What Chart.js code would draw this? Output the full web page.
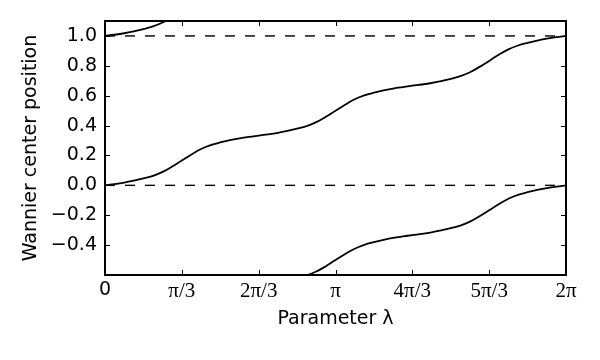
<!DOCTYPE html>
<html>
<head>
<meta charset="utf-8">
<script src="https://cdn.jsdelivr.net/npm/chart.js@4.4.1/dist/chart.umd.min.js"></script>
<style>
  html, body { margin: 0; padding: 0; background: #fff; }
  #wrap { width: 600px; height: 360px; }
</style>
</head>
<body>
<div id="wrap"><canvas id="c" width="600" height="360"></canvas></div>
<script>
// ---- data ----
// sample grid: lambda = j * pi/24, j = 0..48
const stepsPerPi = 24;
// main Wannier centre branch (0 -> 1)
const centerMain = [
  0.000, 0.008, 0.018, 0.031, 0.046, 0.064, 0.090, 0.126, 0.167, 0.207, 0.243, 0.269, 0.287, 0.302, 0.315, 0.325, 0.333,
  0.341, 0.351, 0.364, 0.379, 0.397, 0.423, 0.459, 0.500, 0.540, 0.576, 0.602, 0.620, 0.635, 0.648, 0.658, 0.667,
  0.675, 0.685, 0.698, 0.713, 0.731, 0.757, 0.793, 0.833, 0.874, 0.910, 0.936, 0.954, 0.969, 0.982, 0.992, 1.000
];
// upper periodic image (starts at j = 0)
const centerUpper = [1.000, 1.008, 1.018, 1.031, 1.046, 1.064, 1.090, 1.126, 1.167, 1.207];
// lower periodic image (starts at j = 18)
const lowerStart = 18;
const centerLower = [
  -0.649, -0.636, -0.621, -0.603, -0.577, -0.541, -0.500, -0.460, -0.424, -0.398, -0.380, -0.365, -0.352, -0.342, -0.333,
  -0.325, -0.315, -0.302, -0.287, -0.269, -0.243, -0.207, -0.167, -0.126, -0.090, -0.064, -0.046, -0.031, -0.018, -0.008, 0.000
];
const refLevels = [0, 1];
const xTickMultiples = [0, 1, 2, 3, 4, 5, 6];          // multiples of pi/3
const xTickLabels = ['0', 'π/3', '2π/3', 'π', '4π/3', '5π/3', '2π'];
const yTicks = [-0.4, -0.2, 0.0, 0.2, 0.4, 0.6, 0.8, 1.0];
const yTickLabels = ['\u22120.4', '\u22120.2', '0.0', '0.2', '0.4', '0.6', '0.8', '1.0'];
const xMax = 2 * Math.PI, yMin = -0.6, yMax = 1.1;

// ---- build datasets ----
const lam = j => j * Math.PI / stepsPerPi;
const ptsMain = centerMain.map((v, j) => ({x: lam(j), y: v}));
const ptsUpper = centerUpper.map((v, j) => ({x: lam(j), y: v}));
const ptsLower = centerLower.map((v, j) => ({x: lam(j + lowerStart), y: v}));
const curveStyle = {borderColor: '#000', borderWidth: 1.8, pointRadius: 0, fill: false, tension: 0.4};
const datasets = [
  ...refLevels.map(r => ({data: [{x: 0, y: r}, {x: xMax, y: r}], borderColor: '#000', borderWidth: 1.4,
    borderDash: [10, 10], pointRadius: 0, fill: false})),
  Object.assign({data: ptsMain}, curveStyle),
  Object.assign({data: ptsUpper}, curveStyle),
  Object.assign({data: ptsLower}, curveStyle),
];

const sans = {family: 'DejaVu Sans', size: 19, lineHeight: 1.2};
const serif = {family: 'Liberation Serif', size: 21, lineHeight: 1.2};

// frame + inward ticks on all four sides
const framePlugin = {
  id: 'frame',
  afterDatasetsDraw(chart) {
    const {ctx, chartArea: a, scales: {x, y}} = chart;
    ctx.save();
    ctx.strokeStyle = '#000';
    ctx.lineWidth = 1;
    const L = 5;
    ctx.beginPath();
    x.ticks.forEach(t => {
      const px = Math.round(x.getPixelForValue(t.value)) + 0.5;
      ctx.moveTo(px, a.bottom); ctx.lineTo(px, a.bottom - L);
      ctx.moveTo(px, a.top); ctx.lineTo(px, a.top + L);
    });
    y.ticks.forEach(t => {
      const py = Math.round(y.getPixelForValue(t.value)) + 0.5;
      ctx.moveTo(a.left, py); ctx.lineTo(a.left + L, py);
      ctx.moveTo(a.right, py); ctx.lineTo(a.right - L, py);
    });
    ctx.stroke();
    ctx.lineWidth = 2;
    ctx.strokeRect(a.left, a.top, a.right - a.left, a.bottom - a.top);
    ctx.restore();
  }
};

new Chart(document.getElementById('c'), {
  type: 'line',
  data: {datasets},
  options: {
    responsive: false,
    animation: false,
    layout: {padding: {left: 0, top: 21, right: 34, bottom: 0}},
    plugins: {legend: {display: false}, tooltip: {enabled: false}},
    scales: {
      x: {
        type: 'linear', min: 0, max: xMax,
        grid: {display: false, drawTicks: false}, border: {display: false},
        afterBuildTicks: s => { s.ticks = xTickMultiples.map(m => ({value: m * Math.PI / 3})); },
        afterFit: s => { s.height = 85; },
        ticks: {
          color: '#000', padding: 4, maxRotation: 0, autoSkip: false,
          font: c => (c.index === 0 ? sans : serif),
          callback: (v, i) => xTickLabels[i]
        },
        title: {display: true, text: 'Parameter λ', color: '#000', font: sans, padding: {top: 0, bottom: 30}}
      },
      y: {
        type: 'linear', min: yMin, max: yMax,
        grid: {display: false, drawTicks: false}, border: {display: false},
        afterBuildTicks: s => { s.ticks = yTicks.map(v => ({value: v})); },
        afterFit: s => { s.width = 105; },
        ticks: {color: '#000', padding: 8, font: sans, autoSkip: false,
          callback: (v, i) => yTickLabels[i]},
        title: {display: true, text: 'Wannier center position', color: '#000', font: sans, padding: {top: 20, bottom: 0}}
      }
    }
  },
  plugins: [framePlugin]
});
</script>
</body>
</html>
